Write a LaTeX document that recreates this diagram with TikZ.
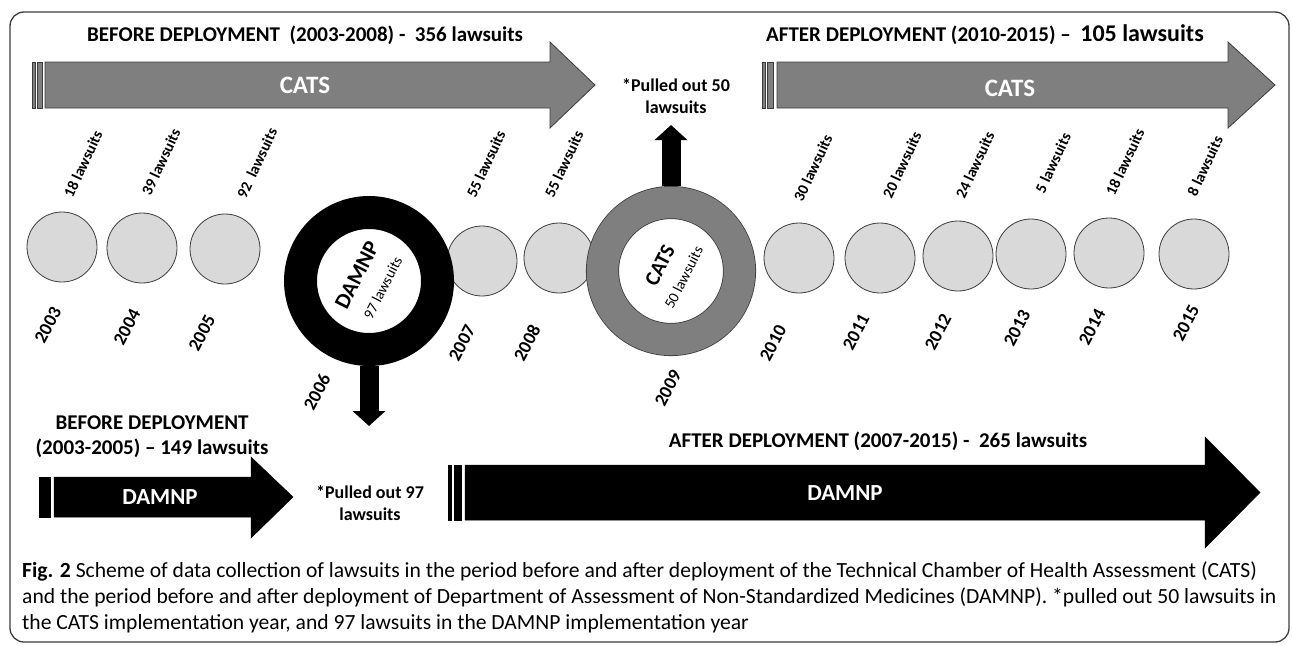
\documentclass[tikz,border=0pt]{standalone}
\usepackage{fontspec}
\setmainfont{Carlito}
\newfontfamily\capfont{Carlito}
\usepackage{xcolor}
\usepackage{tikz}
\usetikzlibrary{arrows.meta}
\definecolor{catsgray}{HTML}{7F7F7F}
\definecolor{dotgray}{HTML}{D9D9D9}
\definecolor{rimgray}{HTML}{3C3C3C}

\begin{document}
\begin{tikzpicture}%
        [x=1pt, y=-1pt,
        frame/.style={draw=rimgray, line width=1.3pt, rounded corners=14pt},
        catsarrow/.style={fill=catsgray, draw=rimgray, line width=0.8pt},
        damnparrow/.style={fill=black, draw=black, line width=0.5pt},
        headline/.style={font=\fontsize{21}{25}\selectfont\bfseries, inner sep=0pt, align=center},
        arrowtext/.style={font=\fontsize{23}{26}\selectfont\bfseries, text=white, inner sep=0pt},
        yeardot/.style={circle, draw=rimgray, fill=dotgray, line width=0.8pt, minimum size=70pt, inner sep=0pt},
        yeartag/.style={font=\fontsize{18.5}{20}\selectfont\bfseries, rotate=62, inner sep=0pt},
        counttag/.style={font=\fontsize{15.5}{18}\selectfont\bfseries, rotate=65, inner sep=0pt},
        pulltag/.style={font=\fontsize{18}{22}\selectfont\bfseries, align=center, inner sep=0pt},
        damnpring/.style={circle, draw=black, line width=33pt, minimum size=137pt, outer sep=16.5pt},
        catsring/.style={circle, draw=rimgray, double=catsgray, double distance=31.5pt, line width=0.8pt, minimum size=137pt, outer sep=16.5pt},
        ringtext/.style={font=\fontsize{15}{18}\selectfont, align=center, rotate=63, inner sep=0pt},
        pullarrow/.style={line width=19pt, -{Triangle[width=32pt,length=15pt]}}]
    %
    \useasboundingbox (0,0) rectangle (1292,645);
    \draw[frame] (10,12) rectangle (1289,642);
    %
    %% CATS, before and after
    \node[headline] (catsbefore) at (305,35) {BEFORE DEPLOYMENT\ \ (2003-2008) -\ \ 356 lawsuits};
    \filldraw[catsarrow] (32,62) rectangle (35.5,108);
    \filldraw[catsarrow] (37,62) rectangle (42.5,108);
    \filldraw[catsarrow] (45,62) -- (550,62) -- (550,42) -- (595,85) -- (550,128) -- (550,108) -- (45,108) -- cycle;
    \node[arrowtext, font=\fontsize{25}{28}\selectfont\bfseries] (catsfirst) at (305,85) {CATS};
    %
    \node[headline] (catsafter) at (985,35) {AFTER DEPLOYMENT (2010-2015) –\ \ {\fontsize{24}{25}\selectfont 105 lawsuits}};
    \filldraw[catsarrow] (762,62) rectangle (765.5,108);
    \filldraw[catsarrow] (767,62) rectangle (773.5,108);
    \filldraw[catsarrow] (777,62) -- (1228,62) -- (1228,42) -- (1275,85) -- (1228,128) -- (1228,108) -- (777,108) -- cycle;
    \node[arrowtext, font=\fontsize{25}{28}\selectfont\bfseries] (catssecond) at (1010,88) {CATS};
    %
    %% year dots
    \node[yeardot] (y2003) at (62,247) {};
    \node[yeardot] (y2004) at (142,248) {};
    \node[yeardot] (y2005) at (225,249) {};
    \node[yeardot] (y2007) at (482,261) {};
    \node[yeardot] (y2008) at (559,258) {};
    \node[yeardot] (y2010) at (799,258) {};
    \node[yeardot] (y2011) at (880,258) {};
    \node[yeardot] (y2012) at (958,256) {};
    \node[yeardot] (y2013) at (1031,254) {};
    \node[yeardot] (y2014) at (1109,253) {};
    \node[yeardot] (y2015) at (1194,254) {};
    %
    %% implementation years
    \node[damnpring] (ring2006) at (369,281) {};
    \node[ringtext] (ring2006text) at (ring2006.center) {{\fontsize{22}{22}\selectfont\bfseries DAMNP}\\[9pt] 97 lawsuits};
    \node[catsring] (ring2009) at (671,271) {};
    \node[ringtext] (ring2009text) at (ring2009.center) {{\fontsize{21}{21}\selectfont\bfseries CATS}\\[7pt] 50 lawsuits};
    %
    %% lawsuits per year
    \node[counttag] (n2003) at (83,164) {18 lawsuits};
    \node[counttag] (n2004) at (161,162) {39 lawsuits};
    \node[counttag] (n2005) at (257,163) {92\ \ lawsuits};
    \node[counttag] (n2007) at (486,164) {55 lawsuits};
    \node[counttag] (n2008) at (564,164) {55 lawsuits};
    \node[counttag] (n2010) at (813,168) {30 lawsuits};
    \node[counttag] (n2011) at (902,165) {20 lawsuits};
    \node[counttag] (n2012) at (975,165) {24 lawsuits};
    \node[counttag] (n2013) at (1053,163) {5 lawsuits};
    \node[counttag] (n2014) at (1125,162) {18 lawsuits};
    \node[counttag] (n2015) at (1205,166) {8 lawsuits};
    %
    %% years
    \node[yeartag] (t2003) at (48,325) {2003};
    \node[yeartag] (t2004) at (127,327) {2004};
    \node[yeartag] (t2005) at (202,333) {2005};
    \node[yeartag] (t2006) at (317,392) {2006};
    \node[yeartag] (t2007) at (462,343) {2007};
    \node[yeartag] (t2008) at (527,343) {2008};
    \node[yeartag] (t2009) at (668,388) {2009};
    \node[yeartag] (t2010) at (773,343) {2010};
    \node[yeartag] (t2011) at (856,332) {2011};
    \node[yeartag] (t2012) at (938,332) {2012};
    \node[yeartag] (t2013) at (1017,328) {2013};
    \node[yeartag] (t2014) at (1092,327) {2014};
    \node[yeartag] (t2015) at (1186,323) {2015};
    %
    %% pulled out
    \node[pulltag] (pulled50) at (676,96) {*Pulled out 50\\lawsuits};
    \draw[pullarrow] (ring2009.north) -- (ring2009.north |- 0,125);
    \coordinate (drop97) at (375,426);
    \draw[pullarrow] (ring2006.south) -- (ring2006.south |- drop97);
    \node[pulltag] (pulled97) at (370,503) {*Pulled out 97\\lawsuits};
    %
    %% DAMNP, before and after
    \node[headline] (damnpbefore) at (152,437) {BEFORE DEPLOYMENT\\(2003-2005) – 149 lawsuits};
    \filldraw[damnparrow] (39,477) rectangle (42,517);
    \filldraw[damnparrow] (43.5,477) rectangle (50.5,517);
    \filldraw[damnparrow] (54,477) -- (251,477) -- (251,457) -- (293,497) -- (251,538) -- (251,517) -- (54,517) -- cycle;
    \node[arrowtext] (damnpfirst) at (160,497) {DAMNP};
    %
    \node[headline] (damnpafter) at (878,441) {AFTER DEPLOYMENT (2007-2015) -\ \ 265 lawsuits};
    \filldraw[damnparrow] (448,465) rectangle (451.5,520);
    \filldraw[damnparrow] (454.5,465) rectangle (461.5,520);
    \filldraw[damnparrow] (465,465) -- (1205,465) -- (1205,437) -- (1260,492.5) -- (1205,548) -- (1205,520) -- (465,520) -- cycle;
    \node[arrowtext] (damnpsecond) at (845,493) {DAMNP};
    %
    %% caption
    \node[anchor=north west, inner sep=0pt, align=left, font=\capfont\fontsize{21.6}{26}\selectfont] (caption) at (22,561)
        {\textbf{Fig. 2} Scheme of data collection of lawsuits in the period before and after deployment of the Technical Chamber of Health Assessment (CATS)\\
         and the period before and after deployment of Department of Assessment of Non-Standardized Medicines (DAMNP). *pulled out 50 lawsuits in\\
         the CATS implementation year, and 97 lawsuits in the DAMNP implementation year};
\end{tikzpicture}
\end{document}
